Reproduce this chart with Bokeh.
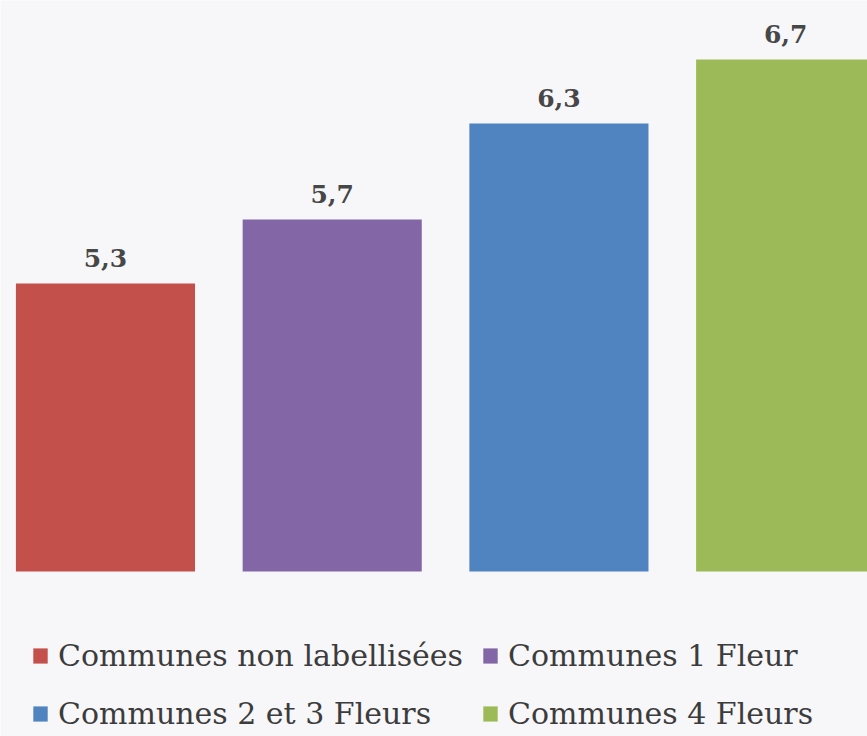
from bokeh.plotting import figure
from bokeh.models import ColumnDataSource, Range1d, Legend, LegendItem
from bokeh.core.properties import value
from bokeh.embed import file_html
from bokeh.resources import INLINE

categories = ["Communes non labellisées", "Communes 1 Fleur",
              "Communes 2 et 3 Fleurs", "Communes 4 Fleurs"]
values = [5.3, 5.7, 6.3, 6.7]
colors = ["#c4504b", "#8366a6", "#4f84c0", "#9cbb58"]
axis_min = 3.5

labels = [f"{v:.1f}".replace(".", ",") for v in values]
src = ColumnDataSource(dict(x=list(range(len(values))), top=values,
                            color=colors, label=labels, cat=categories))

p = figure(width=867, height=736, output_backend="svg", toolbar_location=None,
           x_range=Range1d(-0.463, 3.361), y_range=Range1d(2.469, 7.069),
           min_border=0, min_border_left=0, min_border_right=0,
           min_border_top=0, min_border_bottom=0)
p.background_fill_color = "#f7f7f9"
p.border_fill_color = "#f7f7f9"
p.outline_line_color = None
p.axis.visible = False
p.grid.visible = False

r = p.vbar(x="x", top="top", bottom=axis_min, width=0.79, fill_color="color",
           line_color=None, source=src)

p.text(x="x", y="top", text="label", source=src, text_align="center",
       text_baseline="alphabetic", y_offset=-26,
       text_font=value("DejaVu Serif"), text_font_style="bold",
       text_font_size="25px", text_color="#474747")

items = [LegendItem(label=c, renderers=[r], index=i) for i, c in enumerate(categories)]
legend = Legend(items=items, location=(31, 3), orientation="horizontal", ncols=2,
                glyph_width=18, glyph_height=19, label_standoff=9, spacing=18,
                label_height=40,
                padding=0, margin=0, border_line_color=None,
                background_fill_alpha=0,
                label_text_font="DejaVu Serif", label_text_font_size="30px",
                label_text_color="#3c3c3c")
p.add_layout(legend, "center")

open("out.html", "w").write(file_html(p, INLINE))
